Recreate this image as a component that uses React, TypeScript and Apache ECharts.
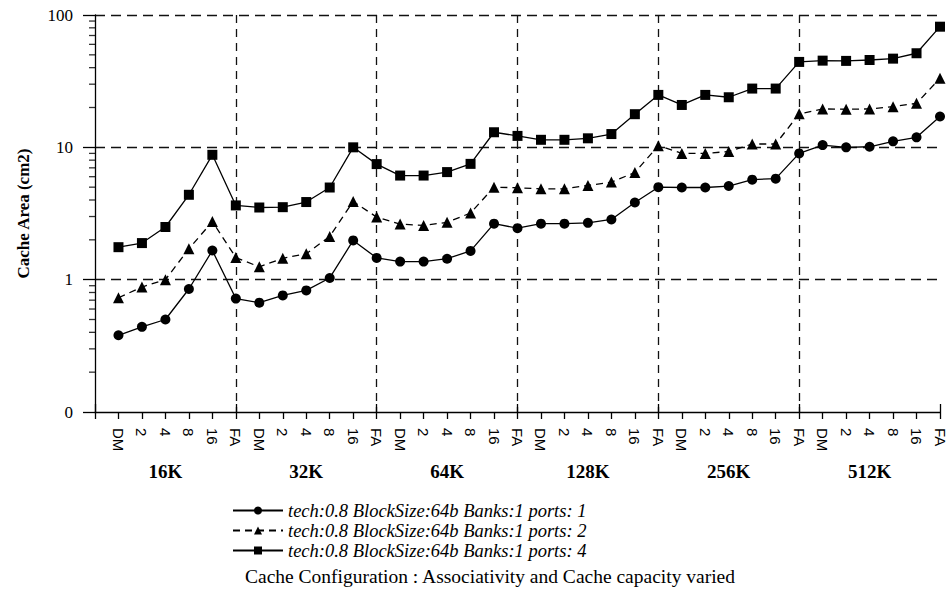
import React, { useEffect, useRef } from "react";
import * as echarts from "echarts";

const assocLabels = ["DM", "2", "4", "8", "16", "FA"];
const capacityGroups = ["16K", "32K", "64K", "128K", "256K", "512K"];
const categories = capacityGroups.flatMap(() => assocLabels);

const ports1 = [0.38, 0.44, 0.5, 0.85, 1.66, 0.72, 0.67, 0.76, 0.83, 1.03, 1.98, 1.46, 1.37, 1.37, 1.44, 1.65, 2.65, 2.45, 2.65, 2.65, 2.69, 2.85, 3.83, 5.0, 4.97, 4.97, 5.1, 5.7, 5.8, 9.0, 10.4, 10.0, 10.1, 11.1, 11.9, 17.1];
const ports2 = [0.73, 0.88, 1.0, 1.71, 2.75, 1.47, 1.25, 1.45, 1.57, 2.12, 3.9, 2.97, 2.63, 2.57, 2.71, 3.19, 5.0, 4.95, 4.86, 4.86, 5.15, 5.46, 6.45, 10.3, 9.0, 9.0, 9.3, 10.6, 10.6, 17.9, 19.5, 19.4, 19.5, 20.3, 21.5, 33.3];
const ports4 = [1.76, 1.89, 2.5, 4.38, 8.78, 3.64, 3.51, 3.53, 3.86, 4.97, 10.0, 7.47, 6.12, 6.12, 6.5, 7.5, 13.0, 12.2, 11.4, 11.4, 11.7, 12.6, 17.8, 24.9, 20.9, 24.9, 23.9, 27.8, 27.8, 44.2, 45.2, 45.0, 45.7, 46.8, 51.4, 81.6];

const seriesNames = [
  "tech:0.8 BlockSize:64b Banks:1 ports: 1",
  "tech:0.8 BlockSize:64b Banks:1 ports: 2",
  "tech:0.8 BlockSize:64b Banks:1 ports: 4",
];
const yTickLabels = ["0", "1", "10", "100"]; // at 0.1, 1, 10, 100
const yMinorTicks = [0.2, 0.3, 0.4, 0.5, 0.6, 0.7, 0.8, 0.9, 2, 3, 4, 5, 6, 7, 8, 9, 20, 30, 40, 50, 60, 70, 80, 90];
const xTitle = "Cache Configuration : Associativity and Cache capacity varied";
const yTitle = "Cache Area (cm2)";

const SERIF = "'Liberation Serif', 'DejaVu Serif', serif";
const SANS = "'Liberation Sans', Arial, sans-serif";

export default function App() {
  const ref = useRef<HTMLDivElement>(null);
  useEffect(() => {
    document.body.style.margin = "0";
    const chart = echarts.init(ref.current!, null, { renderer: "svg" });
    const toPoints = (arr: number[]) => arr.map((v, i) => [i + 1, v]);
    const n = categories.length;
    const lineBase = {
      type: "line",
      xAxisIndex: 0,
      yAxisIndex: 0,
      symbolSize: 10,
      itemStyle: { color: "#000" },
      z: 5,
    };
    const option: any = {
      animation: false,
      backgroundColor: "#fff",
      grid: { left: 95, right: 9, top: 15, bottom: 178, containLabel: false },
      legend: {
        data: seriesNames,
        orient: "vertical",
        left: 232,
        top: 501,
        padding: 0,
        itemWidth: 50,
        itemHeight: 10,
        itemGap: 1,
        textStyle: { fontFamily: SERIF, fontStyle: "italic", fontSize: 18.5, color: "#000" },
      },
      xAxis: [
        {
          type: "value",
          min: 0,
          max: n,
          interval: 1,
          position: "bottom",
          axisLine: { show: true, lineStyle: { color: "#000", width: 1.3 } },
          axisTick: { show: true, length: 7, lineStyle: { color: "#000", width: 1.3 } },
          axisLabel: {
            rotate: -90,
            margin: 16,
            fontFamily: SANS,
            fontSize: 15,
            color: "#000",
            formatter: (v: number) => categories[Math.round(v) - 1] ?? "",
          },
          splitLine: { show: false },
        },
        {
          type: "value",
          min: 0,
          max: n,
          interval: assocLabels.length,
          position: "bottom",
          axisLine: { show: false },
          axisTick: { show: true, inside: true, length: 8, lineStyle: { color: "#000", width: 1.3 } },
          axisLabel: { show: false },
          splitLine: {
            show: true,
            showMinLine: false,
            showMaxLine: false,
            lineStyle: { color: "#111", width: 1.3, type: [8, 6] },
          },
        },
        {
          type: "value",
          min: 0,
          max: n,
          interval: assocLabels.length / 2,
          position: "bottom",
          axisLine: { show: false },
          axisTick: { show: false },
          splitLine: { show: false },
          axisLabel: {
            margin: 50,
            fontFamily: SERIF,
            fontWeight: "bold",
            fontSize: 19,
            color: "#000",
            formatter: (v: number) => {
              const k = Math.round(v);
              if (k % 6 !== 3) return "";
              return capacityGroups[(k - 3) / 6] ?? "";
            },
          },
        },
      ],
      yAxis: {
        type: "log",
        logBase: 10,
        min: 0.1,
        max: 100,
        name: yTitle,
        nameLocation: "middle",
        nameGap: 63,
        nameTextStyle: { fontFamily: SERIF, fontWeight: "bold", fontSize: 17, color: "#000" },
        axisLine: { show: true, lineStyle: { color: "#000", width: 1.3 } },
        axisTick: { show: true, length: 12, lineStyle: { color: "#000", width: 1.3 } },
        axisLabel: {
          margin: 22,
          fontFamily: SERIF,
          fontSize: 17,
          color: "#000",
          formatter: (v: number) => yTickLabels[Math.round(Math.log10(v)) + 1] ?? "",
        },
        splitLine: {
          show: true,
          showMinLine: false,
          lineStyle: { color: "#111", width: 1.3, type: [10, 6] },
        },
      },
      series: [
        {
          ...lineBase,
          name: seriesNames[0],
          data: toPoints(ports1),
          symbol: "circle",
          lineStyle: { color: "#000", width: 1.3, type: "solid" },
        },
        {
          ...lineBase,
          name: seriesNames[1],
          data: toPoints(ports2),
          symbol: "triangle",
          symbolSize: 11,
          lineStyle: { color: "#000", width: 1.3, type: [7, 5] },
        },
        {
          ...lineBase,
          name: seriesNames[2],
          data: toPoints(ports4),
          symbol: "rect",
          lineStyle: { color: "#000", width: 1.3, type: "solid" },
        },
        {
          type: "scatter",
          name: "minor-ticks",
          xAxisIndex: 0,
          yAxisIndex: 0,
          data: yMinorTicks.map((v) => [0, v]),
          symbol: "rect",
          symbolSize: [6, 1.3],
          symbolOffset: [-3, 0],
          itemStyle: { color: "#000" },
          silent: true,
          clip: false,
          z: 10,
        },
      ],
      graphic: [
        {
          type: "text",
          x: 490,
          y: 576,
          style: {
            text: xTitle,
            fontFamily: SERIF,
            fontSize: 19.5,
            fill: "#000",
            align: "center",
            verticalAlign: "middle",
          },
        },
      ],
    };
    chart.setOption(option);
    return () => chart.dispose();
  }, []);
  return <div ref={ref} style={{ width: 949, height: 590 }} />;
}
